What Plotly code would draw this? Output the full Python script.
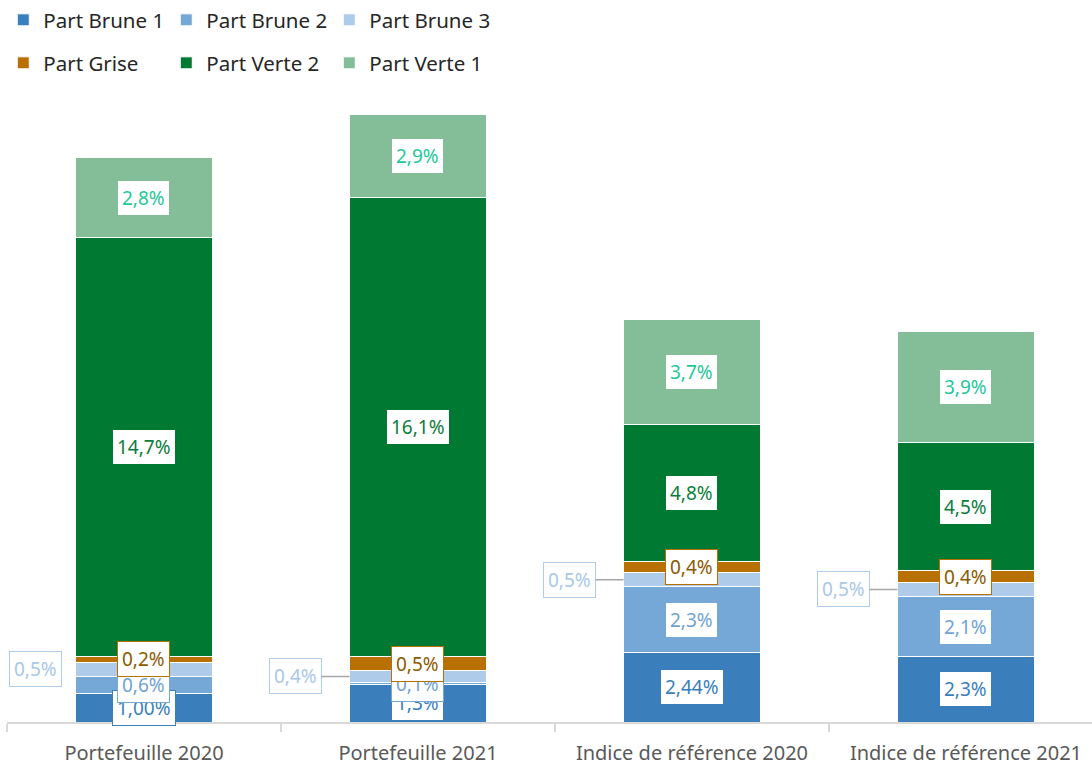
"""Stacked bars: brown / grey / green shares, portfolio vs benchmark."""
import plotly.graph_objects as go

categories = ["Portefeuille 2020", "Portefeuille 2021",
              "Indice de référence 2020", "Indice de référence 2021"]

brune1 = [1.00, 1.3, 2.44, 2.3]
brune2 = [0.6, 0.1, 2.3, 2.1]
brune3 = [0.5, 0.4, 0.5, 0.5]
grise = [0.2, 0.5, 0.4, 0.4]
verte2 = [14.7, 16.1, 4.8, 4.5]
verte1 = [2.8, 2.9, 3.7, 3.9]

brune1_txt = ["1,00%", "1,3%", "2,44%", "2,3%"]
brune2_txt = ["0,6%", "0,1%", "2,3%", "2,1%"]
brune3_txt = ["0,5%", "0,4%", "0,5%", "0,5%"]
grise_txt = ["0,2%", "0,5%", "0,4%", "0,4%"]
verte2_txt = ["14,7%", "16,1%", "4,8%", "4,5%"]
verte1_txt = ["2,8%", "2,9%", "3,7%", "3,9%"]

# name, values, labels, bar colour, label colour, legend
series = [
    ("Part Brune 1", brune1, brune1_txt, "#3a7ebb", "#3a7ebb", "legend"),
    ("Part Brune 2", brune2, brune2_txt, "#75a7d7", "#6fa3d6", "legend"),
    ("Part Brune 3", brune3, brune3_txt, "#aecbe9", "#a9c8e8", "legend"),
    ("Part Grise", grise, grise_txt, "#b87100", "#8b5a00", "legend2"),
    ("Part Verte 2", verte2, verte2_txt, "#007a33", "#0b7d3b", "legend2"),
    ("Part Verte 1", verte1, verte1_txt, "#83be99", "#1fc79a", "legend2"),
]

FONT = "Noto Sans"
x_idx = list(range(len(categories)))

fig = go.Figure()
annotations = []
base = [0.0] * len(categories)

for name, vals, txt, col, tcol, leg in series:
    fig.add_trace(go.Bar(
        x=categories, y=vals, name=name, legend=leg,
        marker=dict(color=col, line=dict(color="white", width=1)),
        hoverinfo="skip",
    ))
    for i, v in enumerate(vals):
        mid = base[i] + v / 2
        ann = dict(
            x=x_idx[i], y=mid, xref="x", yref="y", text=txt[i],
            font=dict(family=FONT, size=19, color=tcol),
            bgcolor="white", bordercolor=col, borderwidth=1, borderpad=4,
            showarrow=False,
        )
        if name == "Part Brune 3":
            # small slice: label pulled out to the left of the bar
            if i == 0:
                ann.update(xshift=-108)
            else:
                ann.update(x=x_idx[i] - 0.25, showarrow=True, arrowhead=0,
                           arrowwidth=1.5, arrowcolor="#a6a6a6",
                           ax=-54, ay=0, standoff=0)
        annotations.append(ann)
        base[i] += v

legend_style = dict(
    orientation="h", xref="container", yref="container",
    x=0.003, xanchor="left", yanchor="middle", traceorder="normal",
    entrywidth=118, entrywidthmode="pixels",
    font=dict(family=FONT, size=20.5, color="#262626"),
    itemclick=False, itemdoubleclick=False,
)

fig.update_layout(
    width=1092, height=765,
    margin=dict(l=7, r=0, t=100, b=43),
    paper_bgcolor="white", plot_bgcolor="white",
    barmode="stack", bargap=0.5,
    font=dict(family=FONT, color="#595959"),
    annotations=annotations,
    legend=dict(legend_style, y=1 - 20 / 765),
    legend2=dict(legend_style, y=1 - 63 / 765),
    xaxis=dict(
        type="category", range=[-0.5, 3.46], automargin=False,
        showline=True, linecolor="#d9d9d9", linewidth=1.5,
        ticks="outside", tickson="boundaries", ticklen=8,
        tickcolor="#d9d9d9", tickwidth=1.5, ticklabelstandoff=12,
        tickfont=dict(family=FONT, size=20, color="#595959"),
        showgrid=False, zeroline=False, fixedrange=True,
    ),
    yaxis=dict(
        range=[0, 622 / 28.5], visible=False, showgrid=False,
        zeroline=False, fixedrange=True, automargin=False,
    ),
    showlegend=True,
)

# drop the default body margin so the figure fills the window exactly
fig.write_html("out.html", config={"displayModeBar": False},
               post_script="document.body.style.margin='0';")
